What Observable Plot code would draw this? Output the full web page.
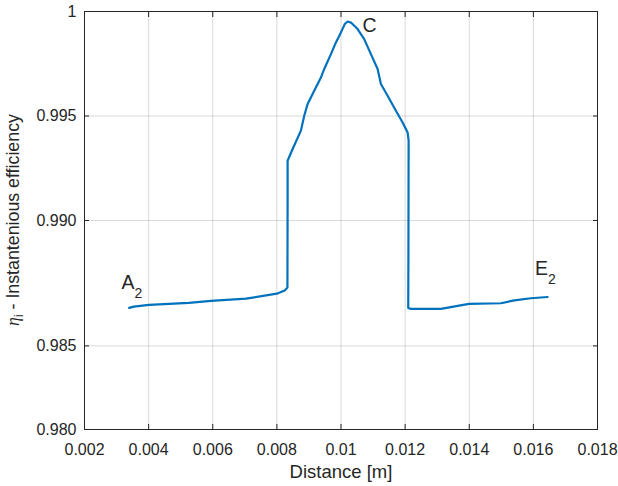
<!DOCTYPE html>
<html><head><meta charset="utf-8">
<script src="https://cdn.jsdelivr.net/npm/d3@7"></script>
<script src="https://cdn.jsdelivr.net/npm/@observablehq/plot@0.6"></script>
<style>body{margin:0;background:#fff} svg{display:block}</style>
</head><body><div id="chart"></div>
<script>
const distance = [0.003394, 0.003541, 0.004009, 0.005256, 0.005943, 0.007034, 0.007997, 0.008246, 0.008329,
  0.008335, 0.008335, 0.008491, 0.008750, 0.008853, 0.008959, 0.009165, 0.009374, 0.009477, 0.009686,
  0.009842, 0.009998, 0.010123, 0.010207, 0.010310, 0.010518, 0.010724, 0.010933, 0.011142, 0.011245,
  0.011454, 0.011713, 0.011922, 0.012078, 0.012109, 0.012103, 0.012097, 0.012181, 0.013117, 0.013990,
  0.014988, 0.015403, 0.015923, 0.016444];
const efficiency = [0.98582, 0.98588, 0.98596, 0.98606, 0.98615, 0.98626, 0.98650, 0.98665, 0.98679,
  0.99095, 0.99286, 0.99342, 0.99430, 0.99501, 0.99557, 0.99621, 0.99684, 0.99725, 0.99796,
  0.99852, 0.99900, 0.99941, 0.99952, 0.99947, 0.99916, 0.99868, 0.99796, 0.99725, 0.99653,
  0.99597, 0.99525, 0.99469, 0.99421, 0.99382, 0.98856, 0.98582, 0.98577, 0.98577, 0.98601,
  0.98604, 0.98618, 0.98628, 0.98634];
const xTicks = [0.002, 0.004, 0.006, 0.008, 0.010, 0.012, 0.014, 0.016, 0.018];
const xTickLabels = ["0.002", "0.004", "0.006", "0.008", "0.01", "0.012", "0.014", "0.016", "0.018"];
const yTicks = [0.980, 0.984, 0.990, 0.995, 1.000];
const yTickLabels = ["0.980", "0.985", "0.990", "0.995", "1"];
const annotationX = [0.003157, 0.010674, 0.016048];
const annotationY = [0.98673, 0.99900, 0.98741];
const annotationMain = ["A", "C", "E"];
const annotationSub = ["2", "", "2"];

const series = distance.map((d, i) => ({distance: d, efficiency: efficiency[i]}));
const annotations = annotationX.map((x, i) => ({x, y: annotationY[i], main: annotationMain[i], sub: annotationSub[i]}));
const fmt = (ticks, labels) => v => labels[ticks.findIndex(t => Math.abs(t - v) < 1e-9)];
const axisColor = "#262626";

const plot = Plot.plot({
  width: 618, height: 486,
  marginLeft: 84, marginRight: 21, marginTop: 11, marginBottom: 57,
  style: {fontFamily: "'Liberation Sans', Arial, sans-serif", fontSize: "16px", color: axisColor, background: "#fff"},
  x: {domain: [0.002, 0.018]},
  y: {domain: [0.98, 1]},
  marks: [
    Plot.gridX(xTicks, {stroke: "#000", strokeOpacity: 0.15, strokeWidth: 1}),
    Plot.gridY(yTicks, {stroke: "#000", strokeOpacity: 0.15, strokeWidth: 1}),
    Plot.frame({stroke: axisColor, strokeWidth: 1}),
    Plot.axisX(xTicks, {anchor: "bottom", tickSize: -5, tickPadding: 19, tickFormat: fmt(xTicks, xTickLabels), label: null, stroke: axisColor}),
    Plot.axisX(xTicks, {anchor: "top", tickSize: -5, tickPadding: 0, tickFormat: () => "", label: null, stroke: axisColor}),
    Plot.axisY(yTicks, {anchor: "left", tickSize: -5, tickPadding: 13, tickFormat: fmt(yTicks, yTickLabels), label: null, stroke: axisColor}),
    Plot.axisY(yTicks, {anchor: "right", tickSize: -5, tickPadding: 0, tickFormat: () => "", label: null, stroke: axisColor}),
    Plot.line(series, {x: "distance", y: "efficiency", stroke: "#0072BD", strokeWidth: 2.2, strokeLinejoin: "round", strokeLinecap: "round"}),
    Plot.text(annotations, {x: "x", y: "y", text: "main", fontSize: 19.5, textAnchor: "start", lineAnchor: "bottom", fill: axisColor}),
    Plot.text(annotations, {x: "x", y: "y", text: "sub", fontSize: 14, textAnchor: "start", lineAnchor: "bottom", dx: 13, dy: 9.3, fill: axisColor}),
    Plot.text(["Distance [m]"], {frameAnchor: "bottom", text: d => d, dy: 48, lineAnchor: "bottom", textAnchor: "middle", fontSize: 18.5, fill: axisColor})
  ]
});

// y-axis label with italic Greek eta and subscript
const svg = d3.select(plot);
const yl = svg.append("text")
  .attr("transform", `translate(19,${(11 + 429) / 2}) rotate(-90)`)
  .attr("text-anchor", "middle")
  .attr("fill", axisColor)
  .style("font-family", "'Liberation Sans', Arial, sans-serif")
  .style("font-size", "17.8px");
yl.append("tspan").attr("font-family", "'Liberation Serif', 'Times New Roman', serif").attr("font-style", "italic").text("η");
yl.append("tspan").attr("font-size", "12px").attr("dy", 4).text("i");
yl.append("tspan").attr("dy", -4).text(" - Instantenious efficiency");

document.getElementById("chart").appendChild(plot);
</script>
</body></html>
